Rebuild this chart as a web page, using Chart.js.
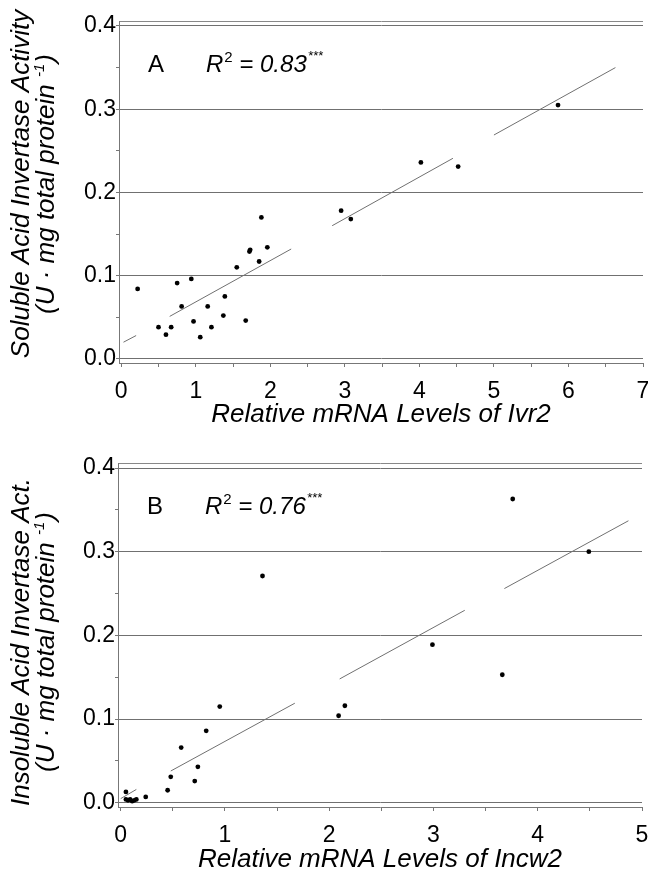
<!DOCTYPE html>
<html>
<head>
<meta charset="utf-8">
<script src="https://cdn.jsdelivr.net/npm/chart.js@4.4.1/dist/chart.umd.min.js"></script>
<style>
    html, body { margin: 0; padding: 0; background: #fff; overflow: hidden; }
    #wrap { position: relative; width: 648px; height: 872px; }
    .panel { position: absolute; left: 0; width: 648px; }
</style>
</head>
<body>
<div id="wrap">
    <div class="panel" style="top:0"><canvas id="chartA" width="648" height="436"></canvas></div>
    <div class="panel" style="top:436px"><canvas id="chartB" width="648" height="440"></canvas></div>
</div>
<script>
// Panel A: soluble acid invertase vs Ivr2
const ivr2Levels = [0.22, 0.50, 0.60, 0.67, 0.75, 0.81, 0.94, 0.97, 1.06, 1.16, 1.21, 1.37, 1.39,
    1.55, 1.67, 1.72, 1.73, 1.85, 1.88, 1.96, 2.95, 3.08, 4.02, 4.52, 5.86];
const solubleActivity = [0.084, 0.038, 0.029, 0.038, 0.091, 0.063, 0.096, 0.045, 0.026, 0.063, 0.038, 0.052, 0.075,
    0.110, 0.046, 0.129, 0.131, 0.117, 0.170, 0.134, 0.178, 0.168, 0.236, 0.231, 0.305];
// fitted line, drawn as broken pieces (pairs of ends)
const fitAX = [0.03, 0.20, 0.65, 2.28, 2.83, 4.45, 5.00, 6.63];
const fitAY = [0.020, 0.028, 0.051, 0.132, 0.160, 0.241, 0.269, 0.350];

// Panel B: insoluble acid invertase vs Incw2
const incw2Levels = [0.05, 0.05, 0.07, 0.09, 0.11, 0.13, 0.15, 0.24, 0.45, 0.48, 0.58, 0.71, 0.74,
    0.82, 0.95, 1.36, 2.09, 2.15, 2.99, 3.66, 3.76, 4.49];
const insolubleActivity = [0.013, 0.004, 0.003, 0.004, 0.002, 0.003, 0.004, 0.007, 0.015, 0.031, 0.066, 0.026, 0.043,
    0.086, 0.115, 0.271, 0.104, 0.116, 0.189, 0.153, 0.363, 0.300];
const fitBX = [0.00, 0.15, 0.48, 1.67, 2.10, 3.30, 3.68, 4.87];
const fitBY = [0.005, 0.016, 0.038, 0.119, 0.148, 0.230, 0.256, 0.337];

// ticks
const yTickValues = [0, 0.05, 0.1, 0.15, 0.2, 0.25, 0.3, 0.35, 0.4];
const xTicksA = [0, 0.5, 1, 1.5, 2, 2.5, 3, 3.5, 4, 4.5, 5, 5.5, 6, 6.5, 7];
const xTicksB = [0, 0.5, 1, 1.5, 2, 2.5, 3, 3.5, 4, 4.5, 5];
const r2Labels = ["0.83", "0.76"];

const FONT = "'Liberation Sans', Arial, sans-serif";
const GRID = "#707070";

const isMajorY = (v) => v >= 0 && v <= 0.4001 && Math.abs(v * 10 - Math.round(v * 10)) < 1e-6;

// draws the panel letter, the R² note and the two-line rotated y title
const panelTextPlugin = {
    id: "panelText",
    afterDraw(chart, args, opts) {
        const { ctx, chartArea } = chart;
        ctx.save();
        ctx.fillStyle = "#000";
        ctx.textBaseline = "middle";
        ctx.textAlign = "left";

        const y = chartArea.top + 44;
        ctx.font = `24px ${FONT}`;
        ctx.fillText(opts.letter, chartArea.left + 29, y);

        let x = chartArea.left + 87;
        ctx.font = `italic 24px ${FONT}`;
        ctx.fillText("R", x, y);
        x += ctx.measureText("R").width + 1;
        ctx.font = `15px ${FONT}`;
        ctx.fillText("2", x, y - 7);
        x += ctx.measureText("2").width;
        ctx.font = `italic 24px ${FONT}`;
        const main = " = " + opts.r2;
        ctx.fillText(main, x, y);
        x += ctx.measureText(main).width + 1;
        ctx.font = `italic 13px ${FONT}`;
        ctx.fillText("***", x, y - 9);

        // y title
        const cy = (chartArea.top + chartArea.bottom) / 2 + opts.titleShift;
        const big = `italic 26px ${FONT}`;
        const small = `italic 15px ${FONT}`;
        ctx.translate(0, cy);
        ctx.rotate(-Math.PI / 2);

        ctx.font = big;
        const w1 = ctx.measureText(opts.yTitle).width;
        ctx.fillText(opts.yTitle, -w1 / 2, 22);

        const head = "(U · mg total protein ";
        const sup = "-1";
        ctx.font = big;
        const wHead = ctx.measureText(head).width;
        const wClose = ctx.measureText(")").width;
        ctx.font = small;
        const wSup = ctx.measureText(sup).width;
        let tx = -(wHead + wSup + wClose + 1) / 2;
        ctx.font = big;
        ctx.fillText(head, tx, 47);
        tx += wHead;
        ctx.font = small;
        ctx.fillText(sup, tx, 40);
        tx += wSup + 1;
        ctx.font = big;
        ctx.fillText(")", tx, 47);
        ctx.restore();
    }
};

function makePanel(canvas, cfg) {
    const points = cfg.xs.map((x, i) => ({ x, y: cfg.ys[i] }));
    const fit = cfg.fitX.map((x, i) => ({ x, y: cfg.fitY[i] }));

    return new Chart(canvas, {
        type: "scatter",
        data: {
            datasets: [
                {
                    data: points,
                    backgroundColor: "#000",
                    borderWidth: 0,
                    pointRadius: 2.4
                },
                {
                    type: "line",
                    data: fit,
                    borderColor: "#707070",
                    borderWidth: 1,
                    pointRadius: 0,
                    fill: false,
                    segment: {
                        borderColor: (ctx) => (ctx.p0DataIndex % 2 === 0 ? "#707070" : "rgba(0,0,0,0)")
                    }
                }
            ]
        },
        options: {
            responsive: false,
            animation: false,
            layout: {
                padding: { top: cfg.padTop, right: cfg.padRight, left: 0, bottom: cfg.padBottom }
            },
            plugins: {
                legend: { display: false },
                tooltip: { enabled: false },
                panelText: { letter: cfg.letter, r2: cfg.r2, yTitle: cfg.yTitle, titleShift: cfg.titleShift }
            },
            scales: {
                x: {
                    type: "linear",
                    min: cfg.xMin,
                    max: cfg.xMax,
                    afterBuildTicks: (scale) => {
                        scale.ticks = cfg.xTicks.map((value) => ({ value }));
                    },
                    afterFit: (scale) => {
                        scale.height = cfg.xHeight;
                        scale.paddingLeft = 0;
                        scale.paddingRight = 0;
                    },
                    ticks: {
                        autoSkip: false,
                        maxRotation: 0,
                        padding: 11,
                        color: "#000",
                        font: { family: FONT, size: 23 },
                        callback: (value) => (Number.isInteger(value) ? String(value) : "")
                    },
                    grid: {
                        drawOnChartArea: false,
                        tickLength: 4,
                        tickColor: "#777"
                    },
                    border: { color: "#777", width: 1 },
                    title: {
                        display: true,
                        text: cfg.xTitle,
                        color: "#000",
                        padding: 0,
                        font: { family: FONT, size: 26, style: "italic", lineHeight: 1 }
                    }
                },
                y: {
                    min: -0.005,
                    max: 0.406,
                    afterBuildTicks: (scale) => {
                        scale.ticks = [scale.min, ...yTickValues, scale.max].map((value) => ({ value }));
                    },
                    afterFit: (scale) => {
                        scale.width = cfg.yWidth;
                        scale.paddingTop = 0;
                        scale.paddingBottom = 0;
                    },
                    ticks: {
                        autoSkip: false,
                        padding: 0,
                        color: "#000",
                        font: { family: FONT, size: 23 },
                        callback: (value) => (isMajorY(value) ? value.toFixed(1) : "")
                    },
                    grid: {
                        tickLength: 3,
                        color: (ctx) => {
                            const v = ctx.tick.value;
                            if (isMajorY(v)) return GRID;
                            if (v > 0.4) return "#888";
                            return "rgba(0,0,0,0)";
                        },
                        tickColor: (ctx) => {
                            const v = ctx.tick.value;
                            return v < 0 || v > 0.4 ? "rgba(0,0,0,0)" : "#777";
                        }
                    },
                    border: { color: "#777", width: 1 }
                }
            }
        },
        plugins: [panelTextPlugin]
    });
}

makePanel(document.getElementById("chartA"), {
    xs: ivr2Levels, ys: solubleActivity, fitX: fitAX, fitY: fitAY,
    xMin: -0.03, xMax: 7, xTicks: xTicksA,
    xTitle: "Relative mRNA Levels of Ivr2",
    yTitle: "Soluble Acid Invertase Activity",
    letter: "A", r2: r2Labels[0], titleShift: -8,
    padTop: 21, padBottom: 8, padRight: 5, xHeight: 65, yWidth: 119
});

makePanel(document.getElementById("chartB"), {
    xs: incw2Levels, ys: insolubleActivity, fitX: fitBX, fitY: fitBY,
    xMin: -0.026, xMax: 5, xTicks: xTicksB,
    xTitle: "Relative mRNA Levels of Incw2",
    yTitle: "Insoluble Acid Invertase Act.",
    letter: "B", r2: r2Labels[1], titleShift: 7,
    padTop: 27, padBottom: 3, padRight: 6, xHeight: 66, yWidth: 118
});
</script>
</body>
</html>
